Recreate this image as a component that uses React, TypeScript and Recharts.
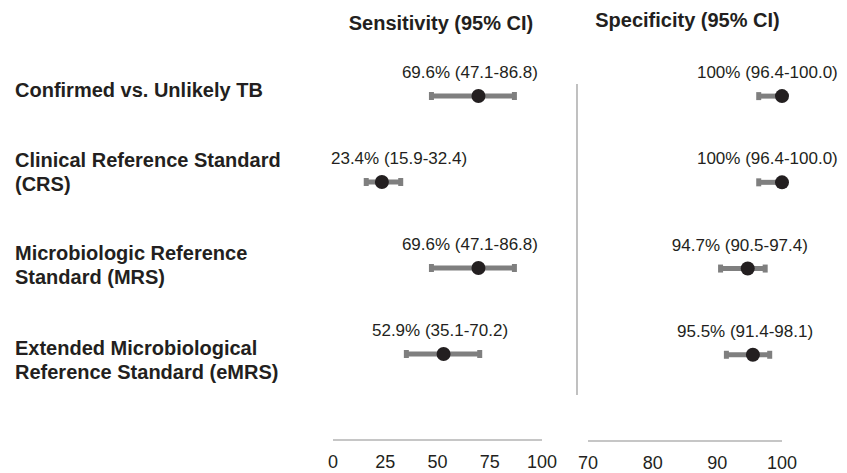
import React from 'react';
import { ScatterChart, Scatter, XAxis, YAxis, ErrorBar } from 'recharts';

// rows of the forest plot, top to bottom
const categories = [
  ['Confirmed vs. Unlikely TB'],
  ['Clinical Reference Standard', '(CRS)'],
  ['Microbiologic Reference', 'Standard (MRS)'],
  ['Extended Microbiological', 'Reference Standard (eMRS)'],
];

const sensitivity = [69.6, 23.4, 69.6, 52.9];
const sensLow = [47.1, 15.9, 47.1, 35.1];
const sensHigh = [86.8, 32.4, 86.8, 70.2];

const specificity = [100, 100, 94.7, 95.5];
const specLow = [96.4, 96.4, 90.5, 91.4];
const specHigh = [100.0, 100.0, 97.4, 98.1];

const sensTicks = [0, 25, 50, 75, 100];
const specTicks = [70, 80, 90, 100];

const W = 847;
const H = 473;
const FONT = '"Liberation Sans", Arial, Helvetica, sans-serif';
const TEXT = '#231f20';
const WHISKER = '#7f7f7f';
const AXIS = '#c6c6c6';

// small vertical nudges of the row captions, as in the original layout
const captionShift = [-6, -10, -3, 6];

function buildRows(v: number[], lo: number[], hi: number[]) {
  return v.map((x, i) => ({
    row: i,
    x,
    err: [x - lo[i], hi[i] - x],
    mid: (lo[i] + hi[i]) / 2,
    text: `${x}% (${lo[i].toFixed(1)}-${hi[i].toFixed(1)})`,
  }));
}

let canvas: HTMLCanvasElement | null = null;
function textWidth(s: string, font: string) {
  if (!canvas) canvas = document.createElement('canvas');
  const ctx = canvas.getContext('2d');
  if (!ctx) return s.length * 8;
  ctx.font = font;
  return ctx.measureText(s).width;
}

const Dot = (p: any) => <circle cx={p.cx} cy={p.cy} r={7} fill={TEXT} />;

// value label centred over the CI, kept inside the panel
const makeLabel = (minX: number, maxX: number) => (p: any) => {
  const text = p.payload.text;
  const w = textWidth(text, `17px ${FONT}`);
  let c = p.cx - 3;
  c = Math.max(c, minX + w / 2);
  c = Math.min(c, maxX - w / 2);
  return (
    <text x={c} y={p.cy - 18} textAnchor="middle" fontSize={17} fontFamily={FONT} fill={TEXT}>
      {text}
    </text>
  );
};

const CaptionTick = (p: any) => {
  const i = p.payload.value;
  const lines = categories[i] || [];
  const centre = p.y + captionShift[i];
  const start = centre - ((lines.length - 1) * 23.5) / 2 + 7;
  return (
    <text x={15} y={start} fontSize={20} fontWeight="bold" fontFamily={FONT} fill={TEXT}>
      {lines.map((l, k) => (
        <tspan key={k} x={15} dy={k === 0 ? 0 : 23.5}>
          {l}
        </tspan>
      ))}
    </text>
  );
};

interface PanelProps {
  values: number[];
  low: number[];
  high: number[];
  domain: [number, number];
  ticks: number[];
  margin: { top: number; right: number; bottom: number; left: number };
  labelMin: number;
  labelMax: number;
  captions?: boolean;
}

function Panel({ values, low, high, domain, ticks, margin, labelMin, labelMax, captions }: PanelProps) {
  const rows = buildRows(values, low, high);
  const labels = rows.map((r) => ({ row: r.row, x: r.mid, text: r.text }));
  return (
    <div style={{ position: 'absolute', left: 0, top: 0 }}>
      <ScatterChart width={W} height={H} margin={margin}>
        <XAxis
          type="number"
          dataKey="x"
          domain={domain}
          ticks={ticks}
          interval={0}
          height={30}
          tickLine={false}
          tickSize={6}
          tickMargin={9}
          axisLine={{ stroke: AXIS, strokeWidth: 2 }}
          tick={{ fontSize: 18, fontFamily: FONT, fill: TEXT }}
        />
        <YAxis
          type="number"
          dataKey="row"
          domain={[-0.5, 4]}
          reversed
          ticks={[0, 1, 2, 3]}
          interval={0}
          width={captions ? 333 : 0}
          hide={!captions}
          axisLine={false}
          tickLine={false}
          tick={<CaptionTick />}
        />
        <Scatter data={labels} shape={makeLabel(labelMin, labelMax)} isAnimationActive={false} />
        <Scatter data={rows} shape={<Dot />} isAnimationActive={false}>
          <ErrorBar
            dataKey="err"
            direction="x"
            width={4}
            strokeWidth={5}
            stroke={WHISKER}
            isAnimationActive={false}
          />
        </Scatter>
      </ScatterChart>
    </div>
  );
}

export default function App() {
  return (
    <div style={{ position: 'absolute', left: 0, top: 0, width: W, height: H, background: '#fff' }}>
      <Panel
        values={sensitivity}
        low={sensLow}
        high={sensHigh}
        domain={[0, 100]}
        ticks={sensTicks}
        margin={{ top: 53, right: 305, bottom: 3, left: 0 }}
        labelMin={331}
        labelMax={545}
        captions
      />
      <Panel
        values={specificity}
        low={specLow}
        high={specHigh}
        domain={[70, 100]}
        ticks={specTicks}
        margin={{ top: 53, right: 65, bottom: 2, left: 588 }}
        labelMin={590}
        labelMax={845}
      />
      <svg width={W} height={H} style={{ position: 'absolute', left: 0, top: 0, pointerEvents: 'none' }}>
        <text x={441} y={29.5} textAnchor="middle" fontSize={20} fontWeight="bold" fontFamily={FONT} fill={TEXT}>
          Sensitivity (95% CI)
        </text>
        <text x={687.5} y={27} textAnchor="middle" fontSize={20} fontWeight="bold" fontFamily={FONT} fill={TEXT}>
          Specificity (95% CI)
        </text>
        <line x1={577} y1={84} x2={577} y2={395} stroke="#a6a6a6" strokeWidth={1.4} />
      </svg>
    </div>
  );
}
